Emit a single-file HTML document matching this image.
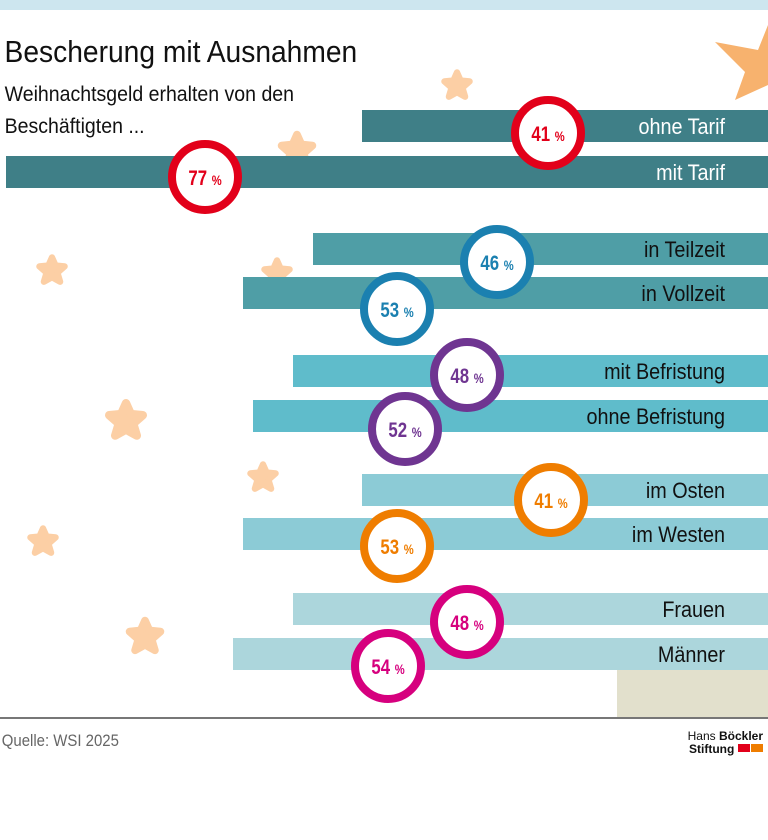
<!DOCTYPE html>
<html><head><meta charset="utf-8"><style>
body{margin:0;background:#fff;}
svg text{font-family:"Liberation Sans Narrow","Liberation Sans",sans-serif;}
</style></head><body>
<svg width="768" height="835" viewBox="0 0 768 835" xmlns="http://www.w3.org/2000/svg">
<defs>
<path id="st" d="M0,-14 L4,-5 L14,-4 L6,3 L9,13 L0,8 L-9,13 L-6,3 L-14,-4 L-4,-5Z" stroke-linejoin="round"/>
</defs>
<rect x="0" y="0" width="768" height="10" fill="#cde6ef"/>
<polygon points="770,20 758,50 715,42 745,72 735,100 768,85" fill="#f7b26e"/>
<text x="5" y="62" font-size="31" fill="#111" transform="scale(0.91,1)">Bescherung mit Ausnahmen</text>
<text x="5" y="101" font-size="21" fill="#111" transform="scale(0.93,1)">Weihnachtsgeld erhalten von den</text>
<text x="5" y="133" font-size="21" fill="#111" transform="scale(0.93,1)">Beschäftigten ...</text>
<g fill="#fccfa5" stroke="#fccfa5" stroke-width="7">
<use href="#st" transform="translate(457,85) scale(0.9)"/>
<use href="#st" transform="translate(297,150) scale(1.1)"/>
<use href="#st" transform="translate(52,270) scale(0.9)"/>
<use href="#st" transform="translate(277,273) scale(0.9)"/>
<use href="#st" transform="translate(126,420) scale(1.2)"/>
<use href="#st" transform="translate(263,477) scale(0.9)"/>
<use href="#st" transform="translate(43,541) scale(0.9)"/>
<use href="#st" transform="translate(145,636) scale(1.1)"/>
</g>
<rect x="362" y="110" width="406" height="32" fill="#3f7f87"/>
<rect x="6" y="156" width="762" height="32" fill="#3f7f87"/>
<rect x="313" y="233" width="455" height="32" fill="#4f9ea6"/>
<rect x="243" y="277" width="525" height="32" fill="#4f9ea6"/>
<rect x="293" y="355" width="475" height="32" fill="#5fbccb"/>
<rect x="253" y="400" width="515" height="32" fill="#5fbccb"/>
<rect x="362" y="474" width="406" height="32" fill="#8ccbd6"/>
<rect x="243" y="518" width="525" height="32" fill="#8ccbd6"/>
<rect x="293" y="593" width="475" height="32" fill="#acd6dc"/>
<rect x="233" y="638" width="535" height="32" fill="#acd6dc"/>
<rect x="617" y="670" width="151" height="48" fill="#e2e0cc"/>
<g font-size="22" text-anchor="end" transform="translate(725,0) scale(0.9,1)">
<text x="0" y="134" fill="#fff">ohne Tarif</text>
<text x="0" y="180" fill="#fff">mit Tarif</text>
<text x="0" y="257" fill="#111">in Teilzeit</text>
<text x="0" y="301" fill="#111">in Vollzeit</text>
<text x="0" y="379" fill="#111">mit Befristung</text>
<text x="0" y="424" fill="#111">ohne Befristung</text>
<text x="0" y="498" fill="#111">im Osten</text>
<text x="0" y="542" fill="#111">im Westen</text>
<text x="0" y="617" fill="#111">Frauen</text>
<text x="0" y="662" fill="#111">Männer</text>
</g>
<g fill="#fff" stroke-width="8">
<circle cx="548" cy="133" r="33" stroke="#e2001a"/>
<circle cx="205" cy="177" r="33" stroke="#e2001a"/>
<circle cx="497" cy="262" r="33" stroke="#1b80b0"/>
<circle cx="397" cy="309" r="33" stroke="#1b80b0"/>
<circle cx="467" cy="375" r="33" stroke="#6f3591"/>
<circle cx="405" cy="429" r="33" stroke="#6f3591"/>
<circle cx="551" cy="500" r="33" stroke="#ef7d00"/>
<circle cx="397" cy="546" r="33" stroke="#ef7d00"/>
<circle cx="467" cy="622" r="33" stroke="#d6007e"/>
<circle cx="388" cy="666" r="33" stroke="#d6007e"/>
</g>
<g font-size="21" font-weight="bold" text-anchor="middle">
<text transform="translate(548,141) scale(0.8,1)" fill="#e2001a">41 <tspan font-size="14">%</tspan></text>
<text transform="translate(205,185) scale(0.8,1)" fill="#e2001a">77 <tspan font-size="14">%</tspan></text>
<text transform="translate(497,270) scale(0.8,1)" fill="#1b80b0">46 <tspan font-size="14">%</tspan></text>
<text transform="translate(397,317) scale(0.8,1)" fill="#1b80b0">53 <tspan font-size="14">%</tspan></text>
<text transform="translate(467,383) scale(0.8,1)" fill="#6f3591">48 <tspan font-size="14">%</tspan></text>
<text transform="translate(405,437) scale(0.8,1)" fill="#6f3591">52 <tspan font-size="14">%</tspan></text>
<text transform="translate(551,508) scale(0.8,1)" fill="#ef7d00">41 <tspan font-size="14">%</tspan></text>
<text transform="translate(397,554) scale(0.8,1)" fill="#ef7d00">53 <tspan font-size="14">%</tspan></text>
<text transform="translate(467,630) scale(0.8,1)" fill="#d6007e">48 <tspan font-size="14">%</tspan></text>
<text transform="translate(388,674) scale(0.8,1)" fill="#d6007e">54 <tspan font-size="14">%</tspan></text>
</g>
<rect x="0" y="717" width="768" height="2" fill="#777"/>
<text x="2" y="746" font-size="17" fill="#666" transform="scale(0.88,1)">Quelle: WSI 2025</text>
<text x="763" y="740" font-size="12" fill="#111" text-anchor="end">Hans <tspan font-weight="bold">Böckler</tspan></text>
<text x="689" y="753" font-size="12" font-weight="bold" fill="#111">Stiftung</text>
<rect x="738" y="744" width="12" height="8" fill="#e2001a"/>
<rect x="751" y="744" width="12" height="8" fill="#ef7d00"/>
</svg>
</body></html>
